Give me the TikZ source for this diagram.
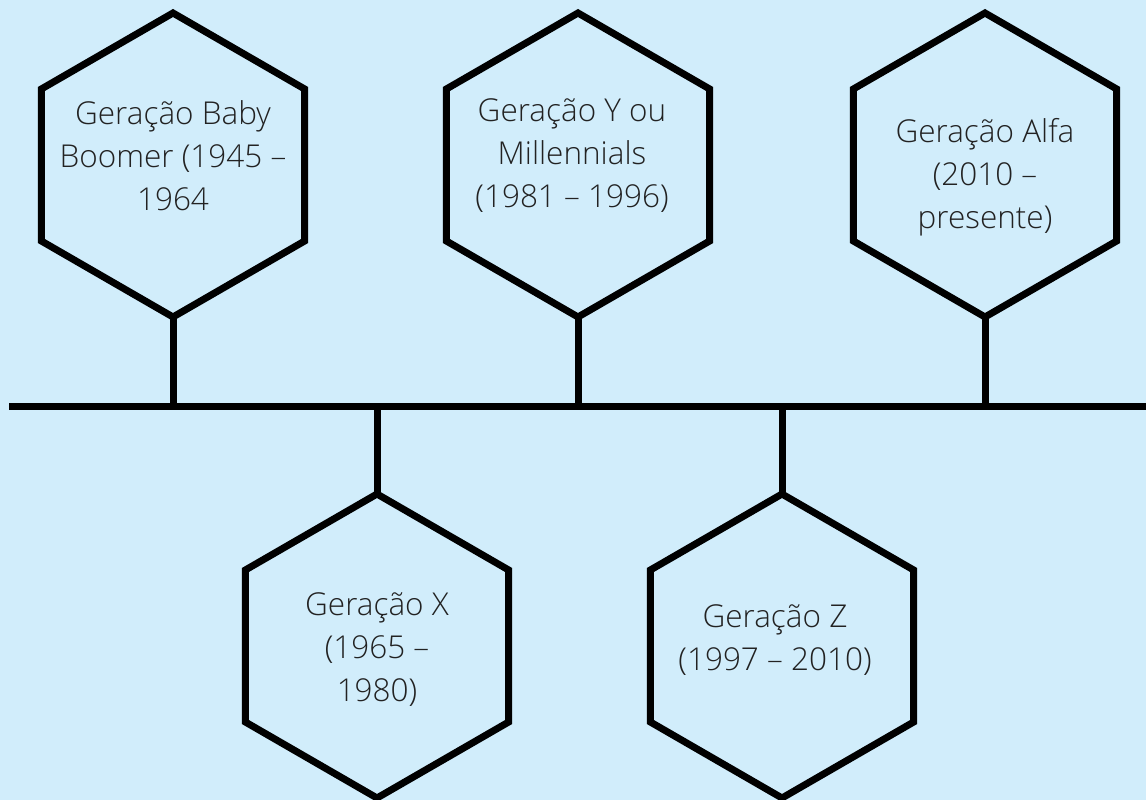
\documentclass[tikz,border=0pt]{standalone}
\usepackage{fontspec}
\setmainfont{Open Sans Light}
\usetikzlibrary{shapes.geometric}
\definecolor{bgblue}{HTML}{D1EDFB}
\definecolor{txtgray}{HTML}{222222}
\tikzset{
  hexbox/.style={draw=black, line width=7pt, fill=bgblue, regular polygon, regular polygon sides=6,
    shape border rotate=90, minimum size=304pt, inner sep=0pt, outer sep=0pt},
  hextext/.style={align=center, text=txtgray, font=\fontsize{31.5pt}{43pt}\selectfont, inner sep=0pt},
  linkline/.style={line width=7pt, draw=black}
}
\begin{document}
\begin{tikzpicture}[x=1pt,y=-1pt]
\fill[bgblue] (0,0) rectangle (1146,800);
\useasboundingbox (0,0) rectangle (1146,800);
% timeline
\coordinate (tl) at (9,406);
\coordinate (tr) at (1146,406);
\draw[linkline] (tl) -- (tr);
% hexagons
\node[hexbox] (h1) at (173,165) {};
\node[hexbox] (h2) at (377,646) {};
\node[hexbox] (h3) at (578,165) {};
\node[hexbox] (h4) at (782,646) {};
\node[hexbox] (h5) at (985,165) {};
% junctions on timeline
\coordinate (j1) at (173,406);
\coordinate (j2) at (377,406);
\coordinate (j3) at (578,406);
\coordinate (j4) at (782,406);
\coordinate (j5) at (985,406);
\draw[linkline] (h1.south) -- (j1);
\draw[linkline] (h2.north) -- (j2);
\draw[linkline] (h3.south) -- (j3);
\draw[linkline] (h4.north) -- (j4);
\draw[linkline] (h5.south) -- (j5);
% texts
\node[hextext] (t1) at (173,156) {Geração Baby\\Boomer (1945 –\\1964};
\node[hextext] (t2) at (377,650) {Geração X\\(1965 –\\1980)};
\node[hextext] (t3) at (572,156) {Geração Y ou\\Millennials\\(1981 – 1996)};
\node[hextext] (t4) at (775,640) {Geração Z\\(1997 – 2010)};
\node[hextext] (t5) at (985,177) {Geração Alfa\\(2010 –\\presente)};
\end{tikzpicture}
\end{document}
